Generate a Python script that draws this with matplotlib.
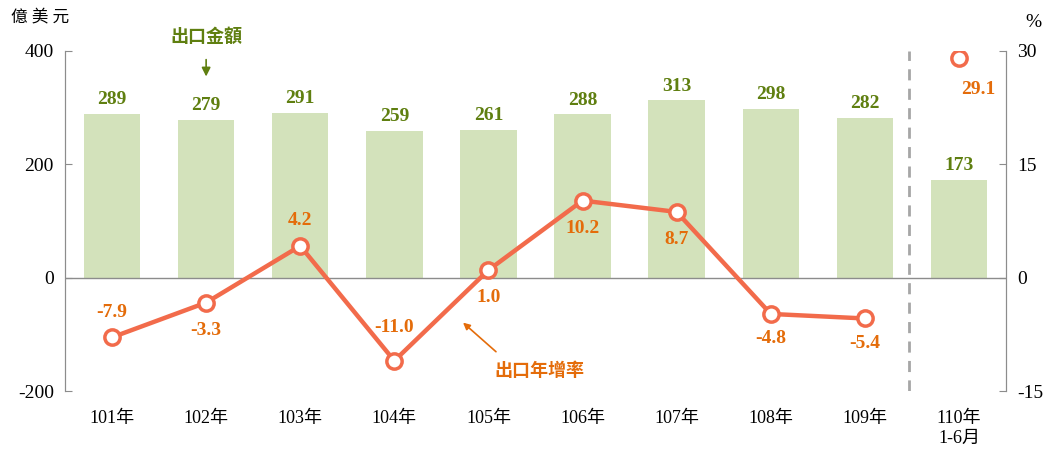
import matplotlib.pyplot as plt

plt.rcParams['font.family'] = ['Liberation Serif', 'Noto Sans CJK TC']
plt.rcParams['axes.unicode_minus'] = False

categories = ['101年', '102年', '103年', '104年', '105年', '106年', '107年', '108年', '109年', '110年\n1-6月']
exports = [289, 279, 291, 259, 261, 288, 313, 298, 282, 173]
growth = [-7.9, -3.3, 4.2, -11.0, 1.0, 10.2, 8.7, -4.8, -5.4]
growth_110 = 29.1

bar_color = '#D3E2BB'
green = '#5F7F10'
line_color = '#F26B4B'
orange = '#E46C0A'
grey = '#8C8C8C'

fig = plt.figure(figsize=(10.53, 4.5), dpi=100)
ax = fig.add_axes([0.0617, 0.1311, 0.8937, 0.7556])
ax2 = ax.twinx()

x = list(range(len(categories)))
ax.bar(x, exports, width=0.6, color=bar_color, zorder=1)
for i, v in enumerate(exports):
    ax.annotate(str(v), (i, v), xytext=(0, 4), textcoords='offset points',
                ha='center', va='bottom', color=green, fontsize=14, fontweight='bold')

ax.set_ylim(-200, 400)
ax.set_yticks([-200, 0, 200, 400])
ax.set_xlim(-0.5, 9.5)
ax.set_xticks(x)
ax.set_xticklabels(categories, fontsize=13)
ax.axhline(0, color=grey, lw=1, zorder=2)
ax.axvline(8.47, color='#A6A6A6', lw=2, ls=(0, (4, 3)), zorder=2)

ax2.set_ylim(-15, 30)
ax2.set_yticks([-15, 0, 15, 30])
ax2.plot(x[:9], growth, color=line_color, lw=3.2, marker='o', markersize=11,
         markerfacecolor='white', markeredgewidth=2.5, zorder=5)
ax2.plot([9], [growth_110], color=line_color, marker='o', markersize=11,
         markerfacecolor='white', markeredgewidth=2.5, zorder=5)

offsets = [18, -20, 18, 24, -20, -20, -20, -18, -18]
for i, (v, off) in enumerate(zip(growth, offsets)):
    ax2.annotate(f'{v:.1f}', (i, v), xytext=(0, off), textcoords='offset points',
                 ha='center', va='center', color=orange, fontsize=14, fontweight='bold')
ax2.annotate(f'{growth_110:.1f}', (9, growth_110), xytext=(14, -23), textcoords='offset points',
             ha='center', va='center', color=orange, fontsize=14, fontweight='bold')

for a in (ax, ax2):
    a.spines['top'].set_visible(False)
    a.spines['bottom'].set_visible(False)
    a.spines['left'].set_color(grey)
    a.spines['right'].set_color(grey)
    a.tick_params(axis='y', direction='in', length=5, color=grey, labelsize=14, pad=8)
ax.tick_params(axis='x', length=0, pad=14)
ax.set_zorder(ax2.get_zorder() - 1)
ax2.patch.set_visible(False)

fig.text(0.038, 0.96, '億 美 元', fontsize=12, ha='center', va='center')
fig.text(0.981, 0.951, '%', fontsize=14, ha='center', va='center')

ax.annotate('出口金額', xy=(1, 355), xytext=(1, 425), ha='center', va='center',
            color=green, fontsize=13, fontweight='bold', annotation_clip=False,
            arrowprops=dict(arrowstyle='-|>', color=green, lw=1.2, shrinkA=8, shrinkB=0))
ax2.annotate('', xy=(3.73, -5.95), xytext=(4.08, -9.8),
             arrowprops=dict(arrowstyle='-|>', color=orange, lw=1.2, shrinkA=0, shrinkB=0))
ax2.text(4.54, -12.4, '出口年增率', ha='center', va='center',
         color=orange, fontsize=13, fontweight='bold')

fig.savefig('out.png', dpi=100)
